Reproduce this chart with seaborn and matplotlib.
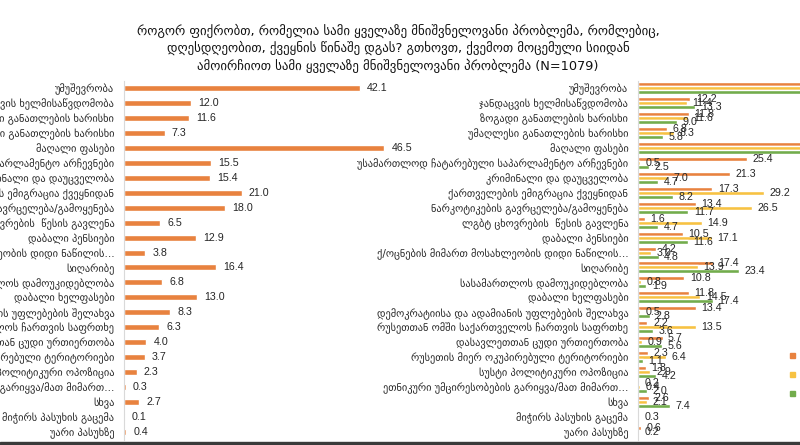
import numpy as np
import pandas as pd
import matplotlib
matplotlib.use("Agg")
import matplotlib.pyplot as plt
import seaborn as sns
from matplotlib.patches import Rectangle

categories = [
    "უმუშევრობა",
    "ჯანდაცვის ხელმისაწვდომობა",
    "ზოგადი განათლების ხარისხი",
    "უმაღლესი განათლების ხარისხი",
    "მაღალი ფასები",
    "უსამართლოდ ჩატარებული საპარლამენტო არჩევნები",
    "კრიმინალი და დაუცველობა",
    "ქართველების ემიგრაცია ქვეყნიდან",
    "ნარკოტიკების გავრცელება/გამოყენება",
    "ლგბტ ცხოვრების  წესის გავლენა",
    "დაბალი პენსიები",
    "ქ/ოცნების მიმართ მოსახლეობის დიდი ნაწილის…",
    "სიღარიბე",
    "სასამართლოს დამოუკიდებლობა",
    "დაბალი ხელფასები",
    "დემოკრატიისა და ადამიანის უფლებების შელახვა",
    "რუსეთთან ომში საქართველოს ჩართვის საფრთხე",
    "დასავლეთთან ცუდი ურთიერთობა",
    "რუსეთის მიერ ოკუპირებული ტერიტორიები",
    "სუსტი პოლიტიკური ოპოზიცია",
    "ეთნიკური უმცირესობების გარიყვა/მათ მიმართ…",
    "სხვა",
    "მიჭირს პასუხის გაცემა",
    "უარი პასუხზე",
]

total = [42.1, 12.0, 11.6, 7.3, 46.5, 15.5, 15.4, 21.0, 18.0, 6.5, 12.9, 3.8,
         16.4, 6.8, 13.0, 8.3, 6.3, 4.0, 3.7, 2.3, 0.3, 2.7, 0.1, 0.4]

series_names = ["ოპოზიციის მხარდამჭერები", "ქართული ოცნების მხარდამჭერები", "ნეიტრალურები"]
s_orange = [44.0, 12.2, 11.8, 6.8, 50.0, 25.4, 21.3, 17.3, 13.4, 1.6, 10.5, 4.2,
            17.4, 10.8, 11.8, 13.4, 2.2, 5.7, 2.3, 1.8, 0.2, 2.6, np.nan, 0.6]
s_yellow = [40.0, 11.4, 11.6, 8.3, 45.0, 0.5, 7.0, 29.2, 26.5, 14.9, 17.1, 3.0,
            13.9, 0.8, 14.5, 0.5, 13.5, 0.9, 6.4, 2.9, 0.4, 2.1, 0.3, 0.2]
s_green = [45.0, 13.3, 9.0, 5.8, 48.0, 2.5, 4.7, 8.2, 11.7, 4.7, 11.6, 4.8,
           23.4, 1.9, 17.4, 2.8, 3.6, 5.6, 1.1, 4.2, 2.0, 7.4, np.nan, np.nan]

title = ("როგორ ფიქრობთ, რომელია სამი ყველაზე მნიშვნელოვანი პრობლემა, რომლებიც,\n"
         "დღესდღეობით, ქვეყნის წინაშე დგას? გთხოვთ, ქვემოთ მოცემული სიიდან\n"
         "ამოირჩიოთ სამი ყველაზე მნიშვნელოვანი პრობლემა (N=1079)")

colors = ["#E8823F", "#F7C242", "#72AC4C"]

sns.set_theme(style="white")
plt.rcParams["font.family"] = ["DejaVu Sans"]

W, H = 800, 445
fig = plt.figure(figsize=(W / 100, H / 100), dpi=100)

top_px, bot_px = 80.5, 439.5
ax_b = 1 - bot_px / H
ax_h = (bot_px - top_px) / H

# Left panel
ax1 = fig.add_axes([124 / W, ax_b, 280 / W, ax_h])
df1 = pd.DataFrame({"cat": categories, "val": total})
sns.barplot(data=df1, y="cat", x="val", color=colors[0], width=0.4, ax=ax1,
            orient="h", saturation=1)
ax1.set_xlim(0, 50)
ax1.bar_label(ax1.containers[0], fmt="%.1f", padding=5, fontsize=7.7,
              family="Liberation Sans", color="#262626")

# Right panel
ax2 = fig.add_axes([638 / W, ax_b, 300 / W, ax_h])
df2 = pd.DataFrame({"cat": categories * 3,
                    "grp": sum([[n] * len(categories) for n in series_names], []),
                    "val": s_orange + s_yellow + s_green})
sns.barplot(data=df2, y="cat", x="val", hue="grp", palette=colors, width=0.8,
            ax=ax2, orient="h", saturation=1, legend=False)
ax2.set_xlim(0, 300 / 4.3)
for cont in ax2.containers:
    labs = [("" if np.isnan(v) else f"{v:.1f}") for v in cont.datavalues]
    ax2.bar_label(cont, labels=labs, padding=4, fontsize=7.7,
                  family="Liberation Sans", color="#262626")

for ax in (ax1, ax2):
    ax.set_xlabel("")
    ax.set_ylabel("")
    ax.set_xticks([])
    for s in ("top", "right", "bottom"):
        ax.spines[s].set_visible(False)
    ax.spines["left"].set_color("#D9D9D9")
    ax.spines["left"].set_linewidth(0.8)
    ax.tick_params(axis="y", length=0, pad=7, labelsize=7.5, labelcolor="#262626")
    ax.set_facecolor("none")
    ax.set_ylim(len(categories) - 0.5, -0.5)

# Legend markers (their labels fall beyond the visible canvas in the reference)
for i, (c, n) in enumerate(zip(colors, series_names)):
    y = 1 - (355 + i * 19) / H
    fig.patches.append(Rectangle((790 / W, y - 2.5 / H), 5 / W, 5 / H,
                                 transform=fig.transFigure, color=c))

fig.text(398 / W, 1 - 48 / H, title, ha="center", va="center", fontsize=9.3,
         color="#111111", linespacing=1.3)

fig.patches.append(Rectangle((0, 0), 1, 3.5 / H, transform=fig.transFigure,
                             color="#3A3A3A"))

fig.savefig("out.png", dpi=100)
